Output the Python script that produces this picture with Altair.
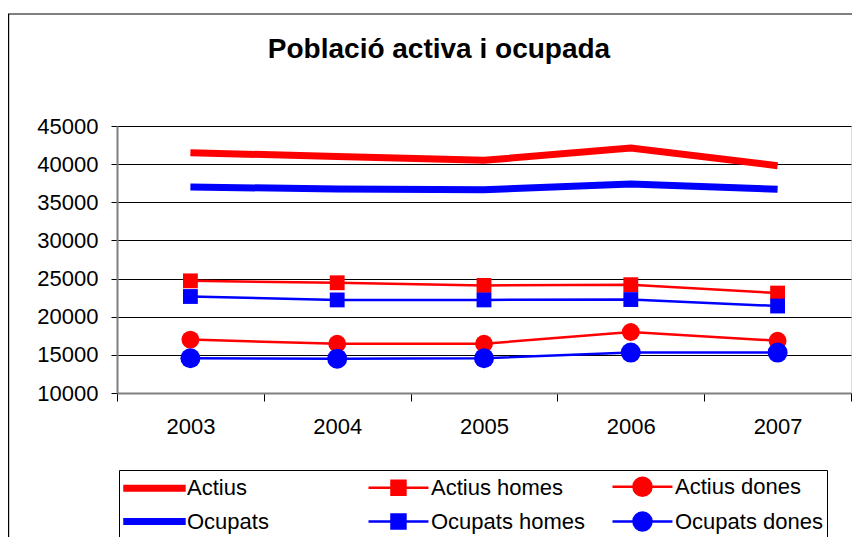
import altair as alt
import pandas as pd

# ---- data ----
years = ["2003", "2004", "2005", "2006", "2007"]
series_names = ["Actius", "Actius homes", "Actius dones",
                "Ocupats", "Ocupats homes", "Ocupats dones"]
actius = [41500, 41000, 40500, 42100, 39800]
actius_homes = [24700, 24450, 24100, 24200, 23100]
actius_dones = [17000, 16450, 16450, 18000, 16850]
ocupats = [37000, 36750, 36650, 37400, 36700]
ocupats_homes = [22650, 22200, 22200, 22250, 21400]
ocupats_dones = [14550, 14500, 14550, 15300, 15300]
y_ticks = [10000, 15000, 20000, 25000, 30000, 35000, 40000, 45000]
title_text = "Població activa i ocupada"

# legend order (Vega fills legend columns top-to-bottom)
legend_order = ["Actius", "Ocupats", "Actius homes", "Ocupats homes",
                "Actius dones", "Ocupats dones"]

# ---- styles ----
RED, BLUE = "#FF0000", "#0000FF"
legend_colors = [RED, BLUE, RED, BLUE, RED, BLUE]
thick_path = "M-1,-0.2H4.45V0.2H-1Z"
square_path = "M-1,0H4.45M1.09,-0.64H2.36V0.64H1.09Z"
circle_path = "M-1,0H4.45M0.905,0A0.82,0.82 0 1,0 2.545,0A0.82,0.82 0 1,0 0.905,0Z"
legend_shapes = [thick_path, thick_path, square_path, square_path,
                 circle_path, circle_path]
FONT = "Liberation Sans"

values = [actius, actius_homes, actius_dones, ocupats, ocupats_homes, ocupats_dones]
rows = []
for name, vals in zip(series_names, values):
    for yr, v in zip(years, vals):
        rows.append({"year": yr, "series": name, "value": v})
df = pd.DataFrame(rows)

x_enc = alt.X(
    "year:O",
    scale=alt.Scale(type="band", paddingInner=0, paddingOuter=0),
    bandPosition=0.5,
    axis=alt.Axis(
        title=None, labelAngle=0, tickBand="extent", grid=False,
        labelFont=FONT, labelFontSize=22, labelColor="black", labelPadding=15,
        tickSize=8, tickColor="black", tickWidth=1,
        domainColor="#808080", domainWidth=2,
    ),
)
y_enc = alt.Y(
    "value:Q",
    scale=alt.Scale(domain=[10000, 45000], nice=False, zero=False),
    axis=alt.Axis(
        title=None, values=y_ticks, format="d",
        labelFont=FONT, labelFontSize=22, labelColor="black", labelPadding=13,
        tickSize=6, tickColor="black", tickWidth=1,
        domainColor="#808080", domainWidth=2,
        gridColor="black", gridWidth=1,
    ),
)
color_enc = alt.Color("series:N",
                      scale=alt.Scale(domain=legend_order, range=legend_colors),
                      legend=None)

base = alt.Chart(df).encode(x=x_enc, y=y_enc)

thick = base.transform_filter(
    alt.FieldOneOfPredicate(field="series", oneOf=["Actius", "Ocupats"])
).mark_line(strokeWidth=7).encode(color=color_enc)

thin = base.transform_filter(
    alt.FieldOneOfPredicate(field="series", oneOf=["Actius homes", "Actius dones",
                                                   "Ocupats homes", "Ocupats dones"])
).mark_line(strokeWidth=2.5).encode(color=color_enc)

squares = base.transform_filter(
    alt.FieldOneOfPredicate(field="series", oneOf=["Actius homes", "Ocupats homes"])
).mark_square(filled=True, size=220, opacity=1).encode(color=color_enc)

circ_a = base.transform_filter(alt.datum.series == "Actius dones").mark_circle(
    size=320, opacity=1).encode(color=color_enc)
circ_o = base.transform_filter(alt.datum.series == "Ocupats dones").mark_circle(
    size=400, opacity=1).encode(color=color_enc)

leg = dict(
    title=None, orient="none", legendX=2, legendY=344, columns=3,
    gridAlign="all", columnPadding=21, rowPadding=6, padding=4,
    strokeColor="black",
    symbolSize=484, symbolStrokeWidth=2.5, symbolOpacity=1,
    labelFont=FONT, labelFontSize=22, labelColor="black", labelOffset=39,
    labelLimit=300,
)
legend_layer = base.mark_point(filled=True, opacity=0).encode(
    fill=alt.Fill("series:N", scale=alt.Scale(domain=legend_order, range=legend_colors),
                  legend=alt.Legend(**leg)),
    stroke=alt.Stroke("series:N", scale=alt.Scale(domain=legend_order, range=legend_colors),
                      legend=alt.Legend(**leg)),
    shape=alt.Shape("series:N", scale=alt.Scale(domain=legend_order, range=legend_shapes),
                    legend=alt.Legend(**leg)),
)

dummy = alt.Chart(pd.DataFrame({"a": [0]}))
frame = dummy.mark_rect(fill="white", fillOpacity=0, stroke="black", strokeWidth=1.2).encode(
    x=alt.value(-108.4), x2=alt.value(900), y=alt.value(-112), y2=alt.value(600))

chart = alt.layer(
    frame, thick, thin, squares, circ_a, circ_o, legend_layer
).properties(
    width=734, height=267,
    title=alt.TitleParams(title_text, font=FONT, fontSize=28, fontWeight="bold",
                          color="black", anchor="middle", frame="group",
                          dx=-45, offset=-51),
    autosize=alt.AutoSizeParams(type="none"),
    padding={"left": 109, "top": 118, "right": 1, "bottom": 144},
).resolve_scale(
    fill="independent", stroke="independent", shape="independent"
).configure_view(
    stroke="#808080", strokeWidth=2.5
).configure(background="white")

chart.save("out.html", embed_options={"renderer": "svg", "actions": False})
